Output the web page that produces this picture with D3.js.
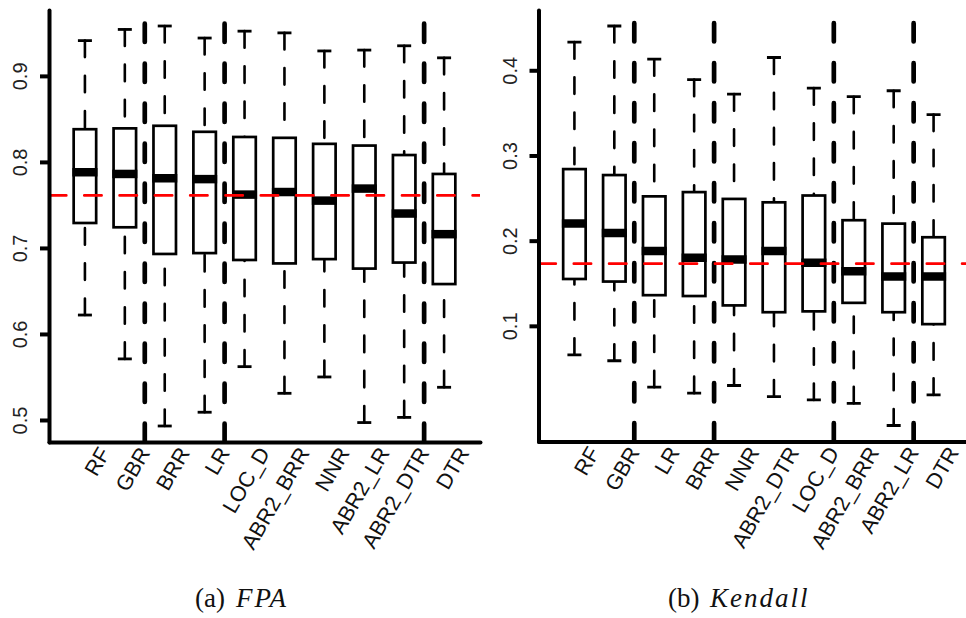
<!DOCTYPE html>
<html>
<head>
<meta charset="utf-8">
<script src="https://cdn.jsdelivr.net/npm/d3@7"></script>
<style>
  body { margin: 0; background: #fff; }
  svg { display: block; }
</style>
</head>
<body>
<svg id="chart" width="966" height="618"></svg>
<script>
// ---- FPA panel: five-number summaries per method ----
const fpaMethods = ["RF", "GBR", "BRR", "LR", "LOC_D", "ABR2_BRR", "NNR", "ABR2_LR", "ABR2_DTR", "DTR"];
const fpaLow  = [0.622, 0.571, 0.493, 0.509, 0.562, 0.531, 0.550, 0.497, 0.503, 0.538];
const fpaQ1   = [0.729, 0.724, 0.693, 0.694, 0.686, 0.682, 0.687, 0.676, 0.683, 0.658];
const fpaMed  = [0.788, 0.786, 0.781, 0.780, 0.762, 0.765, 0.755, 0.769, 0.740, 0.716];
const fpaQ3   = [0.838, 0.839, 0.842, 0.835, 0.829, 0.828, 0.821, 0.819, 0.808, 0.786];
const fpaHigh = [0.941, 0.954, 0.958, 0.944, 0.952, 0.950, 0.929, 0.930, 0.935, 0.921];
const fpaRef = 0.761;
const fpaBreaks = [2.5, 4.5, 9.5];
const fpaTicks = [0.5, 0.6, 0.7, 0.8, 0.9];

// ---- Kendall panel ----
const kenMethods = ["RF", "GBR", "LR", "BRR", "NNR", "ABR2_DTR", "LOC_D", "ABR2_BRR", "ABR2_LR", "DTR"];
const kenLow  = [0.066, 0.059, 0.028, 0.021, 0.030, 0.017, 0.013, 0.009, -0.017, 0.019];
const kenQ1   = [0.155, 0.152, 0.136, 0.135, 0.124, 0.116, 0.117, 0.127, 0.116, 0.102];
const kenMed  = [0.220, 0.209, 0.188, 0.180, 0.178, 0.188, 0.174, 0.164, 0.158, 0.158];
const kenQ3   = [0.284, 0.277, 0.252, 0.257, 0.249, 0.245, 0.253, 0.224, 0.220, 0.204];
const kenHigh = [0.433, 0.452, 0.413, 0.389, 0.372, 0.415, 0.379, 0.369, 0.376, 0.348];
const kenRef = 0.173;
const kenBreaks = [2.5, 4.5, 7.5, 9.5];
const kenTicks = [0.1, 0.2, 0.3, 0.4];

const captions = [
  { label: "(a)", math: "FPA", x: 195, mathX: 236 },
  { label: "(b)", math: "Kendall", x: 668, mathX: 710 }
];

const svg = d3.select("#chart");
const defs = svg.append("defs");

function drawPanel(cfg) {
  const n = cfg.methods.length;
  // R-style limits: categories at 1..n, range padded by 4%
  const x = d3.scaleLinear().domain([0.1, n + 0.9]).range([cfg.left, cfg.left + cfg.width]);
  const lo = d3.min(cfg.low), hi = d3.max(cfg.high), pad = (hi - lo) * 0.04;
  const y = d3.scaleLinear().domain([lo - pad, hi + pad]).range([cfg.bottom, cfg.top]);

  const clipId = "clip-" + cfg.key;
  defs.append("clipPath").attr("id", clipId).append("rect")
    .attr("x", cfg.left).attr("y", cfg.top)
    .attr("width", cfg.width).attr("height", cfg.bottom - cfg.top);

  const g = svg.append("g");
  const plot = g.append("g").attr("clip-path", `url(#${clipId})`);

  const rows = cfg.methods.map((m, i) => ({
    m, pos: i + 1,
    low: cfg.low[i], q1: cfg.q1[i], med: cfg.med[i], q3: cfg.q3[i], high: cfg.high[i]
  }));

  const boxW = 22.5, stapleW = 14;
  const box = plot.selectAll("g.box").data(rows).join("g").attr("class", "box");

  // whiskers run from the staple toward the box
  const whisk = (sel, from, to) => sel.append("line")
    .attr("x1", d => x(d.pos)).attr("x2", d => x(d.pos))
    .attr("y1", d => y(d[from])).attr("y2", d => y(d[to]))
    .attr("stroke", "#000").attr("stroke-width", 2.6)
    .attr("stroke-linecap", "round").attr("stroke-dasharray", "16.5,18.7");
  whisk(box, "high", "q3");
  whisk(box, "low", "q1");

  const staple = (sel, key) => sel.append("line")
    .attr("x1", d => x(d.pos) - stapleW / 2).attr("x2", d => x(d.pos) + stapleW / 2)
    .attr("y1", d => y(d[key])).attr("y2", d => y(d[key]))
    .attr("stroke", "#000").attr("stroke-width", 2.8);
  staple(box, "high");
  staple(box, "low");

  box.append("rect")
    .attr("x", d => x(d.pos) - boxW / 2).attr("width", boxW)
    .attr("y", d => y(d.q3)).attr("height", d => y(d.q1) - y(d.q3))
    .attr("fill", "#fff").attr("stroke", "#000").attr("stroke-width", 2.7);

  box.append("line")
    .attr("x1", d => x(d.pos) - boxW / 2 - 1.3).attr("x2", d => x(d.pos) + boxW / 2 + 1.3)
    .attr("y1", d => y(d.med)).attr("y2", d => y(d.med))
    .attr("stroke", "#000").attr("stroke-width", 8.5);

  // group separators, dash pattern anchored at the bottom of the plot
  plot.selectAll("line.sep").data(cfg.breaks).join("line").attr("class", "sep")
    .attr("x1", d => x(d)).attr("x2", d => x(d))
    .attr("y1", cfg.bottom).attr("y2", cfg.top)
    .attr("stroke", "#000").attr("stroke-width", 4.7)
    .attr("stroke-linecap", "round").attr("stroke-dasharray", "18.3,21.7");

  // reference level
  plot.append("line")
    .attr("x1", cfg.left).attr("x2", cfg.left + cfg.width)
    .attr("y1", y(cfg.ref)).attr("y2", y(cfg.ref))
    .attr("stroke", "#ff0000").attr("stroke-width", 2.7)
    .attr("stroke-linecap", "round").attr("stroke-dasharray", "17.3,18");

  // y axis
  const ya = g.append("g").attr("transform", `translate(${cfg.left},0)`)
    .call(d3.axisLeft(y).tickValues(cfg.ticks).tickSize(9).tickSizeOuter(0)
      .tickFormat(d3.format(".1f")));
  ya.attr("font-family", null).attr("font-size", null);
  ya.select(".domain").attr("stroke-width", 4).attr("stroke-linecap", "round");
  ya.selectAll(".tick line").attr("stroke-width", 4);
  ya.selectAll(".tick text")
    .attr("x", null).attr("dy", null)
    .attr("transform", "translate(-22,0) rotate(-90)")
    .attr("text-anchor", "middle")
    .attr("fill", "#222")
    .style("font-family", "'Liberation Sans', Arial, sans-serif")
    .style("font-size", "20px");

  // x axis with rotated method names
  const xa = g.append("g").attr("transform", `translate(0,${cfg.bottom})`)
    .call(d3.axisBottom(x).tickValues(d3.range(1, n + 1)).tickSize(0).tickSizeOuter(0)
      .tickFormat(i => cfg.methods[i - 1]));
  xa.attr("font-family", null).attr("font-size", null);
  xa.select(".domain").attr("stroke-width", 4).attr("stroke-linecap", "round");
  xa.selectAll(".tick text")
    .attr("y", 0).attr("dy", "0.72em")
    .attr("transform", "translate(12,3) rotate(-60)")
    .attr("text-anchor", "end")
    .attr("fill", "#111")
    .style("font-family", "'Liberation Sans', Arial, sans-serif")
    .style("font-size", "21.5px");
}

drawPanel({
  key: "fpa", left: 49, width: 431, top: 10, bottom: 442,
  methods: fpaMethods, low: fpaLow, q1: fpaQ1, med: fpaMed, q3: fpaQ3, high: fpaHigh,
  ref: fpaRef, breaks: fpaBreaks, ticks: fpaTicks
});
drawPanel({
  key: "ken", left: 538.5, width: 431, top: 10, bottom: 441.5,
  methods: kenMethods, low: kenLow, q1: kenQ1, med: kenMed, q3: kenQ3, high: kenHigh,
  ref: kenRef, breaks: kenBreaks, ticks: kenTicks
});

// sub-figure captions: roman label followed by an italic symbol
captions.forEach(c => {
  const t = svg.append("text")
    .attr("y", 607)
    .style("font-family", "'Liberation Serif', 'DejaVu Serif', serif")
    .style("font-size", "27px")
    .attr("fill", "#111");
  t.append("tspan").attr("x", c.x).text(c.label);
  t.append("tspan").attr("x", c.mathX)
    .style("font-style", "italic").attr("letter-spacing", "2px")
    .text(c.math);
});
</script>
</body>
</html>
